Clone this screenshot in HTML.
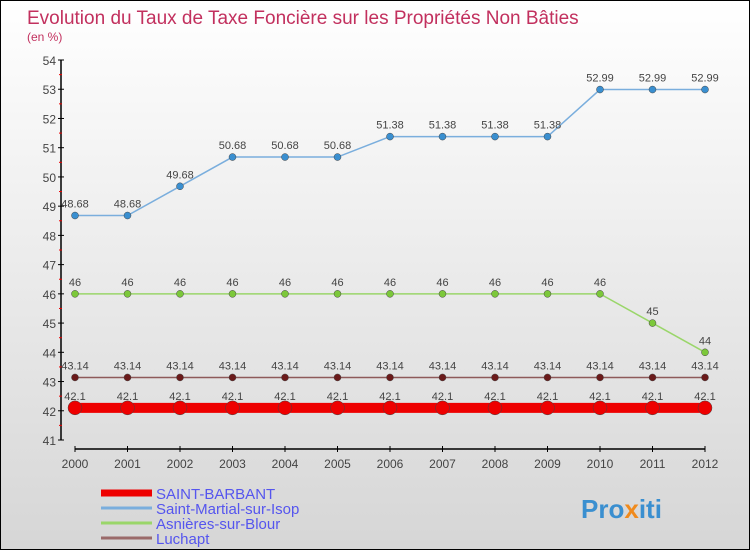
<!DOCTYPE html>
<html><head><meta charset="utf-8"><style>
body{margin:0}
#c{width:748px;height:548px;border:1px solid #000;background:linear-gradient(#fff,#d6d6d6);position:relative;overflow:hidden;font-family:"Liberation Sans",sans-serif}
</style></head><body>
<div id="c">
<svg width="748" height="548" style="position:absolute;left:0;top:0">
<text x="26" y="23" font-size="19" fill="#c2305e">Evolution du Taux de Taxe Foncière sur les Propriétés Non Bâties</text>
<text x="26" y="40" font-size="12" fill="#c2305e">(en %)</text>
<g id="axes"></g><g id="series"></g><g id="legend"></g>
<text x="580" y="517" font-size="26" font-weight="bold" fill="#3a8fd0">Pro<tspan fill="#f08a1c">x</tspan>iti</text>
</svg></div>
<script>
const years=[2000,2001,2002,2003,2004,2005,2006,2007,2008,2009,2010,2011,2012];
const yTicks=[41,42,43,44,45,46,47,48,49,50,51,52,53,54];
const sMartial=[48.68,48.68,49.68,50.68,50.68,50.68,51.38,51.38,51.38,51.38,52.99,52.99,52.99];
const sAsnieres=[46,46,46,46,46,46,46,46,46,46,46,45,44];
const sLuchapt=[43.14,43.14,43.14,43.14,43.14,43.14,43.14,43.14,43.14,43.14,43.14,43.14,43.14];
const sBarbant=[42.1,42.1,42.1,42.1,42.1,42.1,42.1,42.1,42.1,42.1,42.1,42.1,42.1];
const names=["SAINT-BARBANT","Saint-Martial-sur-Isop","Asnières-sur-Blour","Luchapt"];
const NS="http://www.w3.org/2000/svg";
const X=i=>74+i*52.5, Y=v=>439-(v-41)*29.23;
function mk(p,t,a){const e=document.createElementNS(NS,t);for(const k in a)e.setAttribute(k,a[k]);p.appendChild(e);return e;}
const ax=document.getElementById('axes');
let l=mk(ax,'line',{x1:60,y1:Y(54),x2:60,y2:Y(41),stroke:'#000','stroke-width':1.5});

yTicks.forEach(v=>{mk(ax,'line',{x1:57,x2:63,y1:Y(v),y2:Y(v),stroke:'#000'});
 if(v<54)mk(ax,'line',{x1:58,x2:61,y1:Y(v+0.5),y2:Y(v+0.5),stroke:'#e00'});
 const t=mk(ax,'text',{x:55,y:Y(v)+5,'font-size':12,fill:'#444','text-anchor':'end'});t.textContent=v;
 });
l=mk(ax,'line',{x1:X(0),x2:X(12),y1:448,y2:448,stroke:'#000','stroke-width':1.5});

years.forEach((y,i)=>{mk(ax,'line',{x1:X(i),x2:X(i),y1:445,y2:451,stroke:'#000'});
 const t=mk(ax,'text',{x:X(i),y:467,'font-size':12,fill:'#444','text-anchor':'middle'});t.textContent=y;
 });
const sg=document.getElementById('series');
function draw(vals,col,dot,w,r,name){
 const g=mk(sg,'g',{});
 mk(g,'polyline',{points:vals.map((v,i)=>X(i)+','+Y(v)).join(' '),fill:'none',stroke:col,'stroke-width':w});
 vals.forEach((v,i)=>{const c=mk(g,'circle',{cx:X(i),cy:Y(v),r:r,fill:dot,stroke:'#444','stroke-width':0.5});
  
  const t=mk(g,'text',{x:X(i),y:Y(v)-8,'font-size':11,fill:'#444','text-anchor':'middle'});t.textContent=v;
  });
}
draw(sMartial,'#7aaedd','#3a8fd0',1.5,3.5,'series-saint-martial');
draw(sAsnieres,'#9ad66a','#7cc83a',1.5,3.5,'series-asnieres');
draw(sLuchapt,'#8e5a5a','#6b1a1a',1.5,3.5,'series-luchapt');
draw(sBarbant,'#ee0000','#ee0000',10,7,'series-saint-barbant');
const lg=document.getElementById('legend');
const cols=['#ee0000','#7aaedd','#9ad66a','#9a6a6a'],ws=[7,3,3,3];
names.forEach((n,i)=>{const y=492+i*15;
 const g=mk(lg,'g',{});
 mk(g,'line',{x1:100,x2:151,y1:y,y2:y,stroke:cols[i],'stroke-width':ws[i]});
 const t=mk(g,'text',{x:155,y:y+6,'font-size':15,fill:'#5555ee'});t.textContent=n;});
</script>
</body></html>
